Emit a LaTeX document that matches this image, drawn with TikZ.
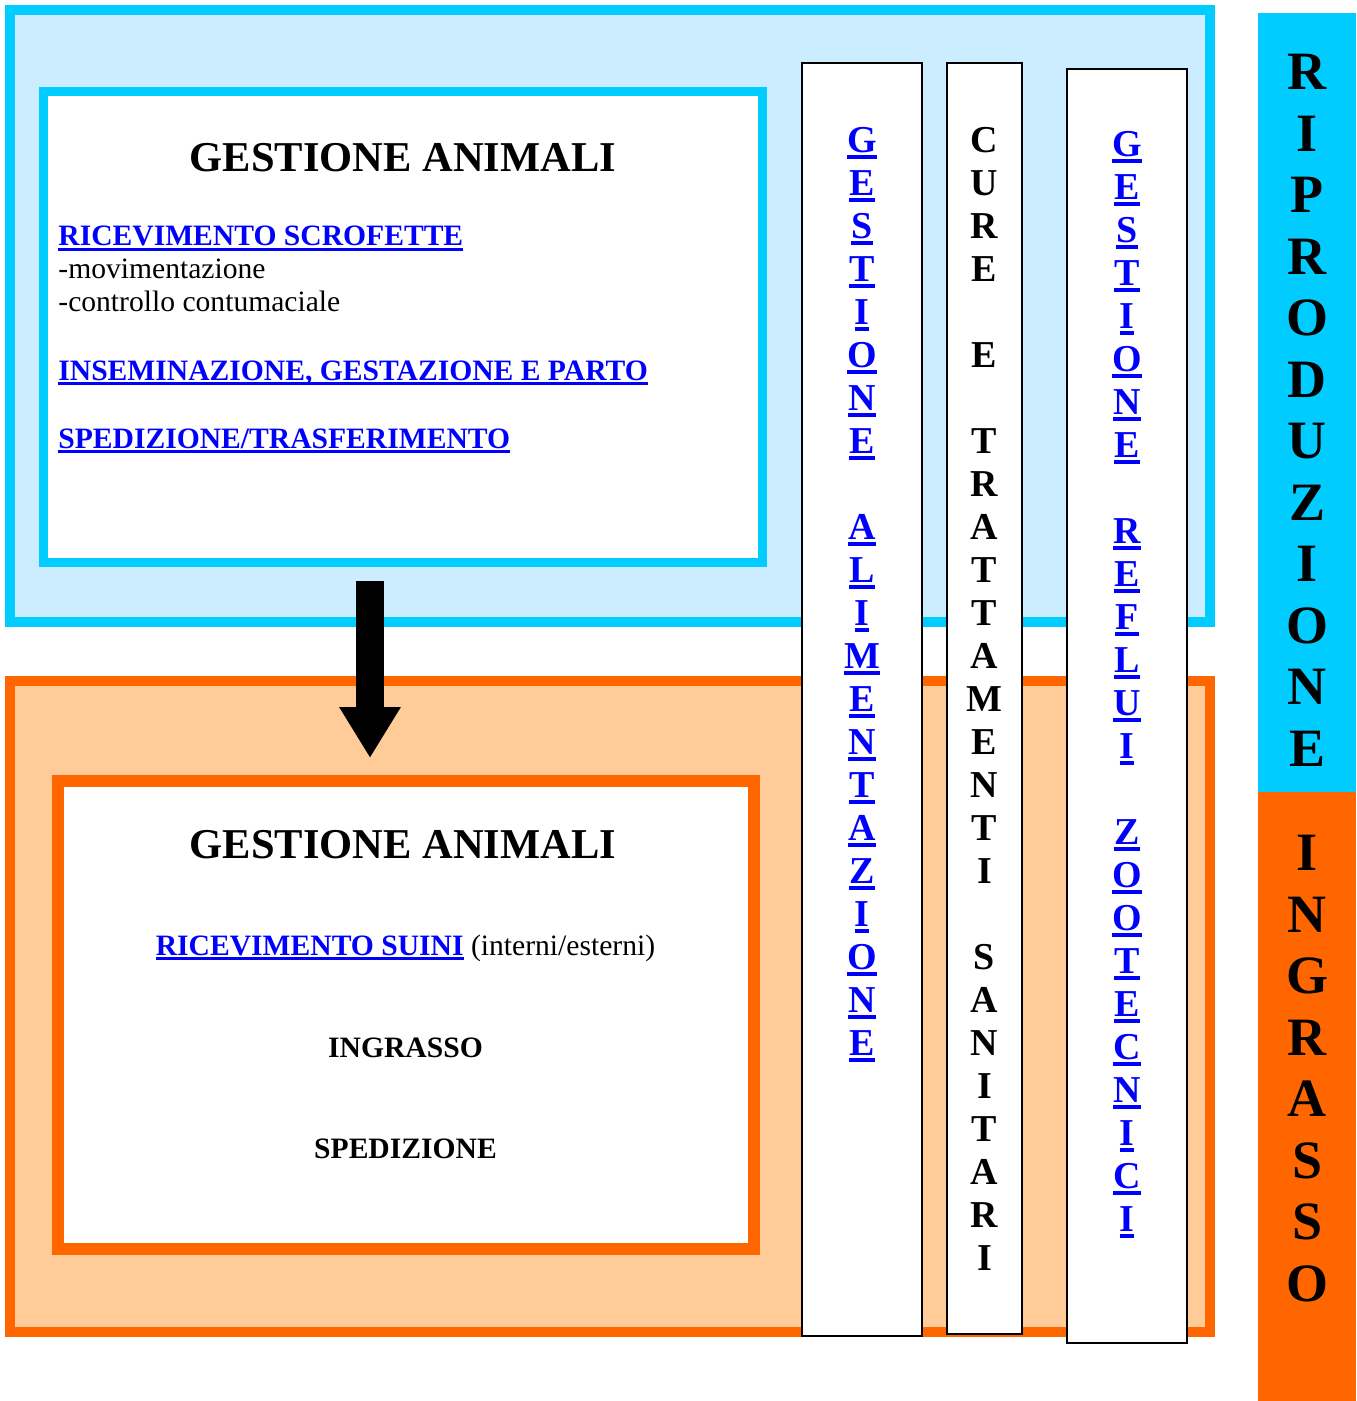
\documentclass[tikz,border=0pt]{standalone}
\usepackage{fontspec}
\setmainfont{Liberation Serif}
\usetikzlibrary{arrows.meta}
\definecolor{cyanb}{RGB}{0,204,255}
\definecolor{lightb}{RGB}{204,236,255}
\definecolor{orangeb}{RGB}{255,102,0}
\definecolor{peach}{RGB}{255,204,153}
\definecolor{linkblue}{RGB}{0,0,255}
\newcommand{\lnk}[1]{{\bfseries\color{linkblue}\setbox0=\hbox{#1}\rlap{\rule[-0.16em]{\wd0}{0.09em}}\box0}}

\begin{document}
\begin{tikzpicture}[x=0.5pt, y=-0.5pt,
    outbox/.style={draw, line width=5pt, minimum width=600pt, inner sep=0pt},
    inbox/.style={draw, fill=white, inner sep=0pt},
    colbox/.style={draw=black, fill=white, line width=1pt, inner sep=0pt},
    vtext/.style={anchor=north, inner sep=0pt, align=center, font=\fontsize{19}{21.5}\selectfont\bfseries},
    striptext/.style={anchor=north, inner sep=0pt, align=center, font=\fontsize{27}{30.75}\selectfont\bfseries},
    title/.style={anchor=base, inner sep=0pt, font=\fontsize{21.25}{24}\selectfont\bfseries},
    item/.style={anchor=base west, inner sep=0pt, font=\fontsize{14.8}{16.8}\selectfont},
    citem/.style={anchor=base, inner sep=0pt, font=\fontsize{14.8}{16.8}\selectfont},
    bitem/.style={citem, font=\fontsize{14.8}{16.8}\selectfont\bfseries},
    bigarrow/.style={line width=14pt, -{Triangle[length=25.5pt, width=29pt]}}]

    \useasboundingbox (0,0) rectangle (1356,1401);

    % Outer areas
    \node[outbox, draw=cyanb, fill=lightb, minimum height=306pt] (repro) at (610,316) {};
    \node[outbox, draw=orangeb, fill=peach, minimum height=325.5pt] (fatten) at (610,1006.5) {};

    % Inner boxes
    \node[inbox, draw=cyanb, line width=4.5pt, minimum width=359.5pt, minimum height=235pt] (topin) at (402.5,327) {};
    \node[inbox, draw=orangeb, line width=6pt, minimum width=348pt, minimum height=234pt] (botin) at (406,1015) {};

    % Top box text
    \node[title] (ttop) at (403,172) {GESTIONE ANIMALI};
    \node[item] (scrof) at (58,246) {\lnk{RICEVIMENTO SCROFETTE}};
    \node[item] (movim) at (58,279) {-movimentazione};
    \node[item] (contum) at (58,312) {-controllo contumaciale};
    \node[item] (insem) at (58,380) {\lnk{INSEMINAZIONE, GESTAZIONE E PARTO}};
    \node[item] (sped) at (58,448) {\lnk{SPEDIZIONE/TRASFERIMENTO}};

    % Bottom box text
    \node[title] (tbot) at (403,858) {GESTIONE ANIMALI};
    \node[citem] (suini) at (405.5,955) {\lnk{RICEVIMENTO SUINI} (interni/esterni)};
    \node[bitem] (ingr) at (405.5,1057) {INGRASSO};
    \node[bitem] (spedb) at (405.5,1158) {SPEDIZIONE};

    % Vertical columns
    \node[colbox, minimum width=60pt, minimum height=636.5pt] (alim) at (862,699.5) {};
    \node[colbox, minimum width=37.5pt, minimum height=635.5pt] (cure) at (984.5,698.5) {};
    \node[colbox, minimum width=60pt, minimum height=636.75pt] (reflui) at (1127,706) {};

    \node[vtext] (alimtxt) at (862,127) {\lnk{G}\\\lnk{E}\\\lnk{S}\\\lnk{T}\\\lnk{I}\\\lnk{O}\\\lnk{N}\\\lnk{E}\\[21.5pt]
        \lnk{A}\\\lnk{L}\\\lnk{I}\\\lnk{M}\\\lnk{E}\\\lnk{N}\\\lnk{T}\\\lnk{A}\\\lnk{Z}\\\lnk{I}\\\lnk{O}\\\lnk{N}\\\lnk{E}};
    \node[vtext] (curetxt) at (984.5,127) {C\\U\\R\\E\\[21.5pt]E\\[21.5pt]T\\R\\A\\T\\T\\A\\M\\E\\N\\T\\I\\[21.5pt]S\\A\\N\\I\\T\\A\\R\\I};
    \node[vtext] (refluitxt) at (1127,131) {\lnk{G}\\\lnk{E}\\\lnk{S}\\\lnk{T}\\\lnk{I}\\\lnk{O}\\\lnk{N}\\\lnk{E}\\[21.5pt]
        \lnk{R}\\\lnk{E}\\\lnk{F}\\\lnk{L}\\\lnk{U}\\\lnk{I}\\[21.5pt]
        \lnk{Z}\\\lnk{O}\\\lnk{O}\\\lnk{T}\\\lnk{E}\\\lnk{C}\\\lnk{N}\\\lnk{I}\\\lnk{C}\\\lnk{I}};

    % Arrow between the two areas
    \coordinate (arrx) at (370,0);
    \draw[bigarrow, shorten <=7.25pt, shorten >=8.5pt] (topin.south -| arrx) -- (botin.north -| arrx);

    % Side strip
    \fill[cyanb] (1258,13) rectangle (1356,792);
    \fill[orangeb] (1258,792) rectangle (1356,1401);
    \node[striptext] (riprotxt) at (1307,54) {R\\I\\P\\R\\O\\D\\U\\Z\\I\\O\\N\\E};
    \node[striptext] (ingrtxt) at (1307,835) {I\\N\\G\\R\\A\\S\\S\\O};

\end{tikzpicture}
\end{document}
